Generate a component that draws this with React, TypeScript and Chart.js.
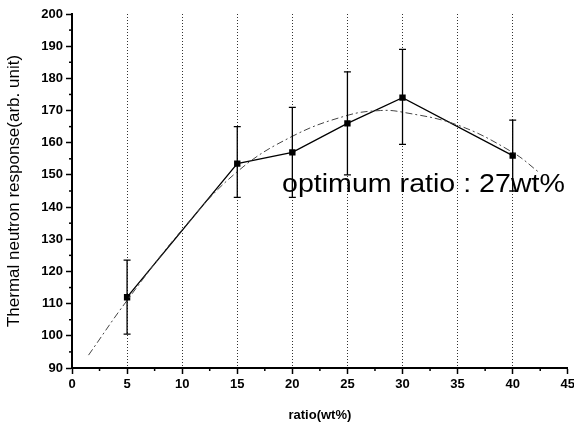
import React, { useEffect, useRef } from "react";
import { Chart, registerables } from "chart.js";

Chart.register(...registerables);

const ratios = [5, 15, 20, 25, 30, 40];
const response = [112, 153.5, 157, 166, 174, 156];
const errLow = [100.5, 143, 143, 150, 159.5, 145];
const errHigh = [123.5, 165, 171, 182, 189, 167];

const fitX = [1.5, 5, 10, 15, 20, 25, 28, 30, 35, 40, 42.5];
const fitY = [94, 111, 133, 151, 162, 168.5, 170, 169.5, 165.5, 157, 150.5];

const annotationText = "optimum ratio : 27wt%";
const xTitle = "ratio(wt%)";
const yTitle = "Thermal neutron response(arb. unit)";

const FONT = "'Liberation Sans', Arial, sans-serif";

const extrasPlugin = {
  id: "extras",
  afterDatasetsDraw(chart: any) {
    const { ctx, scales } = chart;
    const x = scales.x;
    const y = scales.y;
    ctx.save();
    ctx.strokeStyle = "#000";
    ctx.lineWidth = 1.3;
    ratios.forEach((r, i) => {
      const px = x.getPixelForValue(r);
      const lo = y.getPixelForValue(errLow[i]);
      const hi = y.getPixelForValue(errHigh[i]);
      ctx.beginPath();
      ctx.moveTo(px, lo);
      ctx.lineTo(px, hi);
      ctx.moveTo(px - 3.5, lo);
      ctx.lineTo(px + 3.5, lo);
      ctx.moveTo(px - 3.5, hi);
      ctx.lineTo(px + 3.5, hi);
      ctx.stroke();
    });
    ctx.lineWidth = 1.5;
    const left = chart.chartArea.left;
    const bottom = chart.chartArea.bottom;
    for (let v = 95; v < 200; v += 10) {
      const py = y.getPixelForValue(v);
      ctx.beginPath();
      ctx.moveTo(left, py);
      ctx.lineTo(left - 3, py);
      ctx.stroke();
    }
    for (let v = 2.5; v < 45; v += 5) {
      const px = x.getPixelForValue(v);
      ctx.beginPath();
      ctx.moveTo(px, bottom);
      ctx.lineTo(px, bottom + 3);
      ctx.stroke();
    }
    ctx.fillStyle = "#000";
    ctx.font = `26px ${FONT}`;
    ctx.textBaseline = "alphabetic";
    ctx.translate(282, 192);
    ctx.scale(1.1, 1);
    ctx.fillText(annotationText, 0, 0);
    ctx.restore();
  },
};

export default function App() {
  const ref = useRef<HTMLCanvasElement>(null);
  useEffect(() => {
    if (!ref.current) return;
    const chart = new Chart(ref.current, {
      type: "scatter",
      data: {
        datasets: [
          {
            label: "fit",
            data: fitX.map((v, i) => ({ x: v, y: fitY[i] })),
            showLine: true,
            borderColor: "#444",
            borderWidth: 1,
            borderDash: [7, 3, 2, 3],
            pointRadius: 0,
            tension: 0.4,
            fill: false,
          },
          {
            label: "data",
            data: ratios.map((v, i) => ({ x: v, y: response[i] })),
            showLine: true,
            borderColor: "#000",
            borderWidth: 1.3,
            backgroundColor: "#000",
            pointStyle: "rect",
            pointRadius: 4.5,
            pointBorderWidth: 0,
            tension: 0,
            fill: false,
          },
        ],
      },
      options: {
        animation: false,
        responsive: false,
        maintainAspectRatio: false,
        layout: { padding: { top: 14, right: 6, left: 0, bottom: 0 } },
        plugins: { legend: { display: false }, tooltip: { enabled: false } },
        scales: {
          x: {
            type: "linear",
            min: 0,
            max: 45,
            afterFit: (s: any) => {
              s.height = 55;
            },
            ticks: {
              stepSize: 5,
              color: "#000",
              font: { family: FONT, size: 13, weight: "bold" },
              padding: 3,
              maxRotation: 0,
            },
            grid: {
              drawOnChartArea: true,
              drawTicks: true,
              tickLength: 6,
              tickColor: "#000",
              tickWidth: 1.5,
              lineWidth: 1,
              color: (c: any) =>
                c.tick && c.tick.value > 0 && c.tick.value < 45 ? "#333" : "rgba(0,0,0,0)",
            },
            border: { display: true, color: "#000", width: 2, dash: [1, 2] },
            title: {
              display: true,
              text: xTitle,
              color: "#000",
              font: { family: FONT, size: 13, weight: "bold" },
              padding: { top: 3, bottom: 0 },
            },
          },
          y: {
            type: "linear",
            min: 90,
            max: 200,
            afterFit: (s: any) => {
              s.width = 72;
            },
            ticks: {
              stepSize: 10,
              color: "#000",
              font: { family: FONT, size: 13, weight: "bold" },
              padding: 3,
            },
            grid: {
              drawOnChartArea: false,
              drawTicks: true,
              tickLength: 6,
              tickColor: "#000",
              tickWidth: 1.5,
            },
            border: { display: true, color: "#000", width: 2 },
            title: {
              display: true,
              text: yTitle,
              color: "#000",
              font: { family: FONT, size: 17 },
              padding: { top: 4, bottom: 2 },
            },
          },
        },
      },
      plugins: [extrasPlugin],
    } as any);
    return () => chart.destroy();
  }, []);
  return (
    <div style={{ position: "fixed", left: 0, top: 0, width: 574, height: 423, overflow: "hidden", background: "#fff" }}>
      <canvas ref={ref} width={578} height={423} style={{ display: "block" }} />
    </div>
  );
}
